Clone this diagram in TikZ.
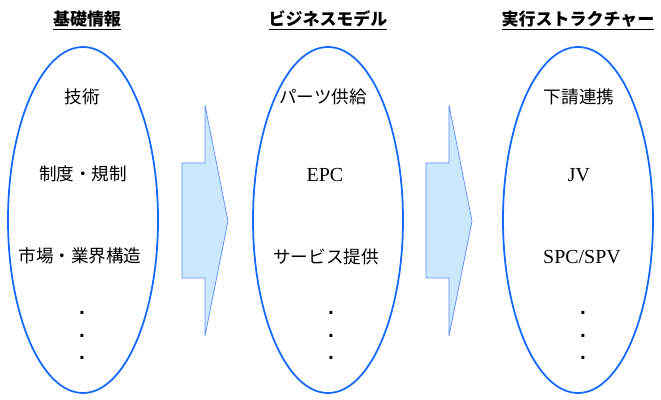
\documentclass[tikz,border=0pt]{standalone}
\usepackage{fontspec}
\setmainfont{Liberation Serif}
\newfontfamily\jp{Noto Sans CJK JP}
\newfontfamily\dv{DejaVu Sans}
\usetikzlibrary{shapes.geometric, positioning}
\definecolor{ovalblue}{RGB}{20,105,255}
\definecolor{arrowfill}{RGB}{204,232,255}
\definecolor{arrowline}{RGB}{90,140,255}

\begin{document}
\begin{tikzpicture}[x=0.03cm, y=-0.03cm,
		oval/.style={ellipse, draw=ovalblue, line width=1.5pt, minimum width=4.5cm, minimum height=10.38cm, inner sep=0pt},
		title/.style={font=\jp\bfseries\fontsize{14.5}{16}\selectfont, inner sep=1pt},
		item/.style={font=\jp\fontsize{15}{18}\selectfont},
		latin/.style={font=\fontsize{17}{20}\selectfont},
		dot/.style={font=\dv\bfseries\fontsize{14}{16}\selectfont, inner sep=0pt},
		flow/.style={draw=arrowline, fill=arrowfill, line width=0.6pt}
		]
		\useasboundingbox (0,0) rectangle (661,400);
		
		% Ellipses
		\node[oval] (basis) at (83,220) {};
		\node[oval] (model) at (328,220) {};
		\node[oval] (exec) at (578,220) {};
		
		% Titres
		\node[title, above=0.45cm of basis, xshift=0.12cm] (basis-title) {\underline{基礎情報}};
		\node[title, above=0.45cm of model] (model-title) {\underline{ビジネスモデル}};
		\node[title, above=0.45cm of exec] (exec-title) {\underline{実行ストラクチャー}};
		
		% Flèches
		\foreach \x in {182, 426} {
			\draw[flow] (\x,163) -- (\x+23,163) -- (\x+23,105) -- (\x+46,221) -- (\x+23,336) -- (\x+23,278) -- (\x,278) -- cycle;
		}
		
		% Base
		\node[item] (basis-1) at (82,97) {技術};
		\node[item] (basis-2) at (83,174) {制度・規制};
		\node[item] (basis-3) at (80,256) {市場・業界構造};
		
		% Modèle
		\node[item] (model-1) at (323,97) {パーツ供給};
		\node[latin] (model-2) at (325,175) {EPC};
		\node[item] (model-3) at (326,257) {サービス提供};
		
		% Structure
		\node[item] (exec-1) at (579,97) {下請連携};
		\node[latin] (exec-2) at (579,175) {JV};
		\node[latin] (exec-3) at (582,257) {SPC/SPV};
		
		% Points
		\foreach \name/\cx in {basis/82, model/331, exec/583} {
			\foreach \i/\cy in {1/313, 2/336, 3/358}
				\node[dot] (\name-dot\i) at (\cx,\cy) {.};
		}
		
	\end{tikzpicture}
\end{document}
